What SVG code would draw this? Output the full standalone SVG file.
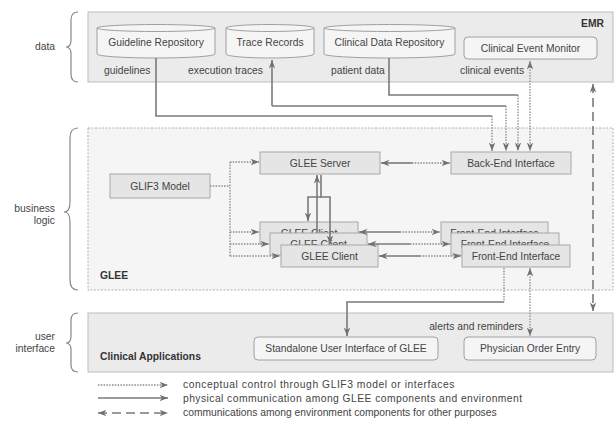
<svg xmlns="http://www.w3.org/2000/svg" width="616" height="423" viewBox="0 0 616 423">
<style>
text{font-family:"Liberation Sans",Arial,sans-serif;font-size:10.3px;fill:#444}
.b{font-weight:bold;fill:#333}
.m{text-anchor:middle}
.e{text-anchor:end}
.panel{fill:#ebebeb;stroke:#bdbdbd;stroke-width:1}
.gpanel{fill:#f5f5f5;stroke:#b0b0b0;stroke-width:1;stroke-dasharray:2,1.5}
.box{fill:#e5e5e5;stroke:#a8a8a8;stroke-width:1}
.cyl{fill:#f5f5f5;stroke:#a0a0a0;stroke-width:1}
.brace{fill:none;stroke:#888;stroke-width:1.2}
.s{fill:none;stroke:#7a7a7a;stroke-width:1.6}
.d{fill:none;stroke:#8a8a8a;stroke-width:1.3;stroke-dasharray:1.5,1.3}
.da{fill:none;stroke:#7a7a7a;stroke-width:1.6;stroke-dasharray:9,5}
</style>
<defs>
<marker id="ah" markerUnits="userSpaceOnUse" markerWidth="9" markerHeight="8" refX="8.5" refY="4" orient="auto-start-reverse">
<path d="M0,0.8 L8.5,4 L0,7.2 L2.6,4 z" fill="#707070"/>
</marker>
</defs>

<!-- braces and layer labels -->
<g id="layer-labels">
<path class="brace" d="M78,12 Q71,12 71,20 V40 Q71,47 66,47 Q71,47 71,54 V74 Q71,82 78,82"/>
<text class="e" x="55" y="50">data</text>
<path class="brace" d="M78,128 Q70,128 70,138 V202 Q70,212 64,212 Q70,212 70,222 V280 Q70,290 78,290"/>
<text class="e" x="55" y="212">business</text>
<text class="e" x="55" y="224">logic</text>
<path class="brace" d="M78,313 Q71,313 71,320 V336 Q71,343 66,343 Q71,343 71,350 V365 Q71,372 78,372"/>
<text class="e" x="55" y="340">user</text>
<text class="e" x="55" y="352">interface</text>
</g>

<!-- panels -->
<g id="emr">
<rect class="panel" x="88" y="12" width="525" height="70"/>
<text class="b e" x="604" y="27">EMR</text>
<text x="104" y="74">guidelines</text>
<text x="188" y="74">execution traces</text>
<text x="331" y="74">patient data</text>
<text x="460" y="74">clinical events</text>
</g>
<g id="glee">
<rect class="gpanel" x="88" y="128" width="525" height="162"/>
<text class="b" x="100" y="279">GLEE</text>
</g>
<g id="clinical-applications">
<rect class="panel" x="88" y="313" width="525" height="59"/>
<text class="b" x="100" y="360">Clinical Applications</text>
<text class="e" x="523" y="330">alerts and reminders</text>
</g>

<!-- data nodes -->
<g id="guideline-repository">
<path class="cyl" d="M97,28 V54 A59,4 0 0 0 215,54 V28"/>
<ellipse class="cyl" cx="156" cy="28" rx="59" ry="3.5"/>
<text class="m" x="156" y="46">Guideline Repository</text>
</g>
<g id="trace-records">
<path class="cyl" d="M226,28 V54 A44,4 0 0 0 314,54 V28"/>
<ellipse class="cyl" cx="270" cy="28" rx="44" ry="3.5"/>
<text class="m" x="270" y="46">Trace Records</text>
</g>
<g id="clinical-data-repository">
<path class="cyl" d="M324,28 V54 A65.5,4 0 0 0 455,54 V28"/>
<ellipse class="cyl" cx="389.5" cy="28" rx="65.5" ry="3.5"/>
<text class="m" x="389.5" y="46">Clinical Data Repository</text>
</g>
<g id="clinical-event-monitor">
<rect class="cyl" x="464" y="37" width="133" height="22" rx="4"/>
<text class="m" x="530.5" y="52">Clinical Event Monitor</text>
</g>

<!-- GLEE nodes -->
<g id="glif3-model">
<rect class="box" x="110" y="174" width="100" height="24"/>
<text class="m" x="160" y="190">GLIF3 Model</text>
</g>
<g id="glee-server">
<rect class="box" x="260" y="152" width="120" height="22"/>
<text class="m" x="320" y="167">GLEE Server</text>
</g>
<g id="back-end-interface">
<rect class="box" x="451" y="152" width="120" height="22"/>
<text class="m" x="511" y="167">Back-End Interface</text>
</g>
<g id="glee-client-1">
<rect class="box" x="260" y="222" width="98" height="22"/>
<text class="m" x="309" y="237">GLEE Client</text>
</g>
<g id="front-end-interface-1">
<rect class="box" x="441" y="222" width="107" height="22"/>
<text class="m" x="494.5" y="237">Front-End Interface</text>
</g>
<g id="glee-client-2">
<rect class="box" x="270" y="233" width="97" height="22"/>
<text class="m" x="318.5" y="248">GLEE Client</text>
</g>
<g id="front-end-interface-2">
<rect class="box" x="451" y="233" width="108" height="22"/>
<text class="m" x="505" y="248">Front-End Interface</text>
</g>
<g id="glee-client-3">
<rect class="box" x="281" y="245" width="97" height="22"/>
<text class="m" x="329.5" y="260">GLEE Client</text>
</g>
<g id="front-end-interface-3">
<rect class="box" x="462" y="245" width="108" height="22"/>
<text class="m" x="516" y="260">Front-End Interface</text>
</g>

<!-- UI nodes -->
<g id="standalone-ui">
<rect class="cyl" x="254" y="337" width="184" height="23" rx="4"/>
<text class="m" x="346" y="352">Standalone User Interface of GLEE</text>
</g>
<g id="physician-order-entry">
<rect class="cyl" x="464" y="337" width="132" height="23" rx="4"/>
<text class="m" x="530" y="352">Physician Order Entry</text>
</g>

<!-- connectors -->
<g id="connectors">
<path class="s" d="M156,58 V116 H492"/>
<path class="d" d="M492,116 V151" marker-end="url(#ah)"/>
<path class="s" d="M272,106 V60" marker-end="url(#ah)"/>
<path class="s" d="M272,106 H506"/>
<path class="d" d="M506,106 V151" marker-end="url(#ah)"/>
<path class="s" d="M389,58 V95 H518"/>
<path class="d" d="M518,95 V151" marker-end="url(#ah)"/>
<path class="d" d="M530,61 V151" marker-start="url(#ah)" marker-end="url(#ah)"/>
<path class="da" d="M593,84 V311" marker-start="url(#ah)" marker-end="url(#ah)"/>

<path class="s" d="M412,163 H381" marker-end="url(#ah)"/>
<path class="d" d="M412,163 H450" marker-end="url(#ah)"/>

<path class="d" d="M210,186 H230 M230,162 V256"/>
<path class="d" d="M230,162 H259" marker-end="url(#ah)"/>
<path class="d" d="M230,232 H259" marker-end="url(#ah)"/>
<path class="d" d="M230,244 H269" marker-end="url(#ah)"/>
<path class="d" d="M230,256 H280" marker-end="url(#ah)"/>

<path class="s" d="M317,233 V175" marker-end="url(#ah)"/>
<path class="s" d="M321,175 V197 H330 V244" marker-end="url(#ah)"/>
<path class="s" d="M321,197 H308 V221" marker-end="url(#ah)"/>

<path class="s" d="M400,232 H359" marker-end="url(#ah)"/>
<path class="d" d="M400,232 H440" marker-end="url(#ah)"/>
<path class="s" d="M410,244 H368" marker-end="url(#ah)"/>
<path class="d" d="M410,244 H450" marker-end="url(#ah)"/>
<path class="s" d="M420,256 H379" marker-end="url(#ah)"/>
<path class="d" d="M420,256 H461" marker-end="url(#ah)"/>

<path class="d" d="M504,268 V302"/>
<path class="s" d="M504,302 H347 V336" marker-end="url(#ah)"/>
<path class="d" d="M530,268 V336" marker-start="url(#ah)" marker-end="url(#ah)"/>
</g>

<!-- legend -->
<g id="legend">
<path class="d" d="M98,385 H168" marker-end="url(#ah)"/>
<text x="183" y="388" style="letter-spacing:0.55px">conceptual control through GLIF3 model or interfaces</text>
<path class="s" d="M98,398 H168" marker-end="url(#ah)"/>
<text x="183" y="402" style="letter-spacing:0.45px">physical communication among GLEE components and environment</text>
<path class="da" d="M98,413 H168" marker-start="url(#ah)" marker-end="url(#ah)"/>
<text x="183" y="416">communications among environment components for other purposes</text>
</g>
</svg>
